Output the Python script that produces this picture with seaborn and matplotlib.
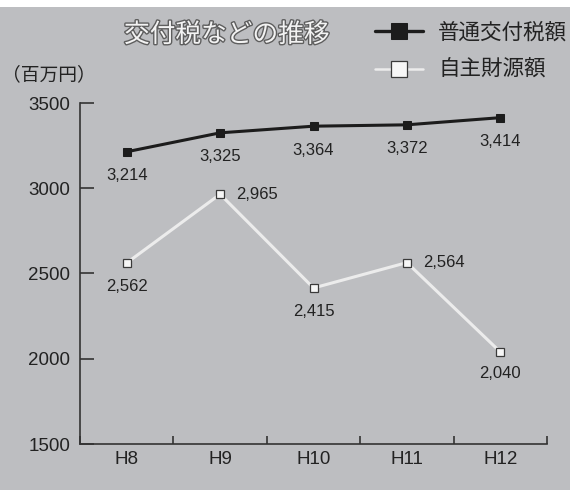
import matplotlib
matplotlib.use("Agg")
import matplotlib.pyplot as plt
import matplotlib.patheffects as pe
from matplotlib.patches import Rectangle
import seaborn as sns
import pandas as pd

years = ["H8", "H9", "H10", "H11", "H12"]
kofuzei = [3214, 3325, 3364, 3372, 3414]
jishu = [2562, 2965, 2415, 2564, 2040]
series_names = ["普通交付税額", "自主財源額"]
title_text = "交付税などの推移"
unit_text = "（百万円）"
yticks = [1500, 2000, 2500, 3000, 3500]

sns.set_theme(style="ticks")
plt.rcParams["font.family"] = ["Noto Sans CJK JP", "DejaVu Sans"]
NUM = ["Liberation Sans", "DejaVu Sans"]

BG = "#bdbec1"
TXT = "#222222"
fig = plt.figure(figsize=(5.7, 4.9), dpi=100, facecolor=BG)
ax = fig.add_axes([80/570, 1-444/490, 467/570, 341/490])
ax.set_facecolor(BG)

df1 = pd.DataFrame({"year": years, "value": kofuzei})
df2 = pd.DataFrame({"year": years, "value": jishu})

sns.lineplot(data=df1, x="year", y="value", ax=ax, color="#1c1c1c", lw=2.2,
             marker="s", markersize=5.8, markerfacecolor="#1c1c1c",
             markeredgecolor="#1c1c1c", label=series_names[0], sort=False)
sns.lineplot(data=df2, x="year", y="value", ax=ax, color="#ececec", lw=2.2,
             marker="s", markersize=5.8, markerfacecolor="#f6f6f6",
             markeredgecolor="#3a3a3a", markeredgewidth=0.9,
             label=series_names[1], sort=False)

# data labels
for i, v in enumerate(kofuzei):
    ax.annotate(f"{v:,}", (i, v), xytext=(0, -24), textcoords="offset pixels",
                ha="center", va="center", fontsize=12, color=TXT, family=NUM)
offsets2 = [(0, -24, "center"), (16, 0, "left"), (0, -24, "center"),
            (16, 0, "left"), (0, -22, "center")]
for i, v in enumerate(jishu):
    dx, dy, ha = offsets2[i]
    ax.annotate(f"{v:,}", (i, v), xytext=(dx, dy), textcoords="offset pixels",
                ha=ha, va="center", fontsize=12, color=TXT, family=NUM)

ax.set_xlim(-0.5, 4.5)
ax.set_ylim(1500, 3500)
ax.set_yticks(yticks)
ax.set_yticklabels([str(t) for t in yticks], fontsize=13.5, color=TXT, family=NUM)
ax.set_xticks(range(len(years)))
ax.set_xticklabels(years, fontsize=13.5, color=TXT, family=NUM)
ax.set_xticks([i - 0.5 for i in range(len(years) + 1)], minor=True)
ax.tick_params(axis="x", which="major", length=0, pad=5)
ax.tick_params(axis="x", which="minor", direction="in", length=6, width=1.2, color="#333333")
ax.tick_params(axis="y", which="major", direction="in", length=10, width=1.2,
               color="#333333", pad=7)
ax.set_xlabel("")
ax.set_ylabel("")
for s in ["top", "right"]:
    ax.spines[s].set_visible(False)
for s in ["left", "bottom"]:
    ax.spines[s].set_color("#333333")
    ax.spines[s].set_linewidth(1.2)

# legend
leg = ax.legend(loc="upper left", bbox_to_anchor=(375/570, 1-22/490),
                bbox_transform=fig.transFigure, frameon=False, fontsize=15.5,
                handlelength=2.23, handletextpad=0.7, labelspacing=0.7,
                borderpad=0, borderaxespad=0)
for h, lw in zip(leg.legend_handles, [2.4, 1.8]):
    h.set_markersize(11.5)
    h.set_linewidth(lw)
for t in leg.get_texts():
    t.set_color(TXT)

fig.text(227/570, 1-35/490, title_text, ha="center", va="center", fontsize=18.5,
         color="#f3f3f3",
         path_effects=[pe.withStroke(linewidth=2, foreground="#5e5e5e")])
fig.text(2/570, 1-75/490, unit_text, ha="left", va="center", fontsize=13.5,
         color=TXT)

# white strip at the top
fig.patches.append(Rectangle((0, 1-7/490), 1, 7/490, transform=fig.transFigure,
                             facecolor="white", edgecolor="none", zorder=-1))

fig.savefig("out.png", dpi=100, facecolor=BG)
